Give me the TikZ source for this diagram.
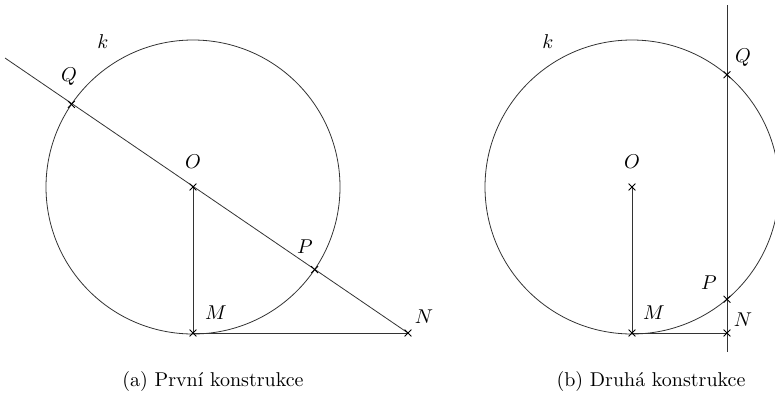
\documentclass[tikz,border=0pt]{standalone}
\usetikzlibrary{shapes.misc,calc}
\begin{document}
\begin{tikzpicture}[x=0.5pt,y=-0.5pt,
  pt/.style={cross out,draw,minimum size=3pt,inner sep=0pt,line width=0.4pt},
  geo/.style={line width=0.4pt,draw=black!80},
  lbl/.style={inner sep=0pt}]
\clip (0,0) rectangle (775,396);
% ---------- (a) ----------
\coordinate (O1) at (193,187);
\coordinate (M1) at (193,333);
\coordinate (N1) at (408,333);
\coordinate (E1) at (5,58);
\coordinate (P1) at (314.6,269.6);
\coordinate (Q1) at (71.4,104.4);
\draw[geo] (O1) circle[radius=147];
\draw[geo] (N1) -- (E1);
\draw[geo] (O1) -- (M1) -- (N1);
\foreach \p in {O1,M1,N1,P1,Q1} \node[pt] at (\p) {};
\node[lbl] (k1) at (103,42) {$k$};
\node[lbl] (lO1) at (193,162) {$O$};
\node[lbl] (lM1) at (216,313) {$M$};
\node[lbl] (lP1) at (305,247) {$P$};
\node[lbl] (lN1) at (424,317) {$N$};
\node[lbl] (lQ1) at (69,77) {$Q$};
\node (capa) at (213,381) {(a) První konstrukce};
% ---------- (b) ----------
\coordinate (O2) at (632,187);
\coordinate (M2) at (632,333);
\coordinate (N2) at (727,333);
\coordinate (T2) at (727,5);
\coordinate (B2) at (727,352);
\coordinate (Q2) at (727,74.8);
\coordinate (P2) at (727,299.2);
\draw[geo] (O2) circle[radius=147];
\draw[geo] (T2) -- (B2);
\draw[geo] (O2) -- (M2) -- (N2);
\foreach \p in {O2,M2,N2,P2,Q2} \node[pt] at (\p) {};
\node[lbl] (k2) at (548,42) {$k$};
\node[lbl] (lO2) at (632,162) {$O$};
\node[lbl] (lM2) at (654,313) {$M$};
\node[lbl] (lP2) at (709,283) {$P$};
\node[lbl] (lN2) at (743,320) {$N$};
\node[lbl] (lQ2) at (743,58) {$Q$};
\node (capb) at (651,381) {(b) Druhá konstrukce};
\end{tikzpicture}
\end{document}
